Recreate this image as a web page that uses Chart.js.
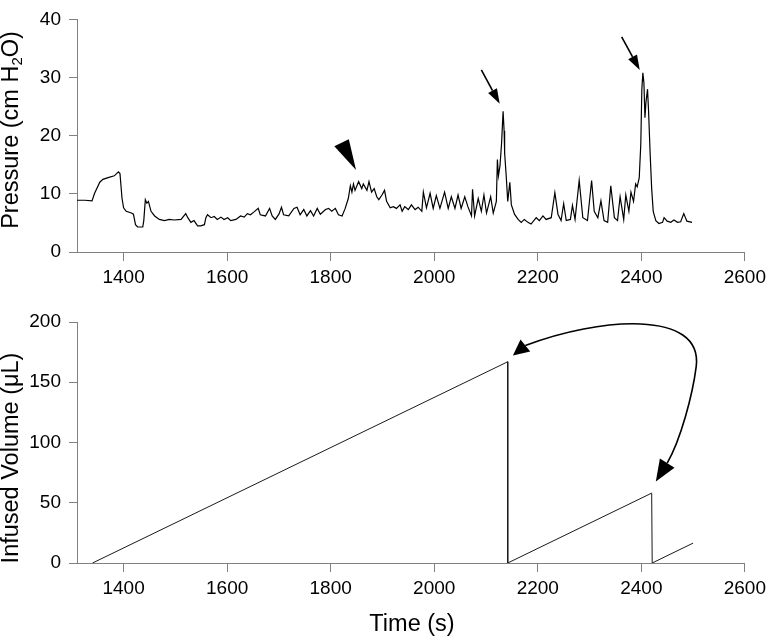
<!DOCTYPE html>
<html>
<head>
<meta charset="utf-8">
<script src="https://cdn.jsdelivr.net/npm/chart.js@4.4.1/dist/chart.umd.min.js"></script>
<style>
  html, body { margin: 0; padding: 0; background: #fff; }
  #wrap { position: relative; width: 771px; height: 639px; }
  canvas { position: absolute; left: 0; }
  #pressureChart { top: 0; }
  #volumeChart { top: 300px; }
</style>
</head>
<body>
<div id="wrap">
  <canvas id="pressureChart" width="771" height="300"></canvas>
  <canvas id="volumeChart" width="771" height="339"></canvas>
</div>
<script>
const timeTicks = [1400, 1600, 1800, 2000, 2200, 2400, 2600];
const pressureTicks = [0, 10, 20, 30, 40];
const volumeTicks = [0, 50, 100, 150, 200];

// pressure trace
const pressureTime = [
  1310, 1325, 1339, 1344, 1354, 1360, 1370, 1382, 1390, 1393, 1397, 1400, 1405, 1415, 1419, 1423, 1427, 1437, 1439, 1442,
  1445, 1448, 1453, 1460, 1469, 1479, 1488, 1498, 1511, 1520, 1524, 1530, 1536, 1543, 1549, 1556, 1559, 1562, 1569, 1575,
  1581, 1588, 1594, 1601, 1607, 1617, 1626, 1633, 1639, 1645, 1652, 1660, 1664, 1674, 1682, 1687, 1693, 1700, 1705, 1709,
  1719, 1729, 1735, 1741, 1748, 1754, 1761, 1767, 1774, 1780, 1790, 1796, 1802, 1809, 1815, 1822, 1828, 1834, 1838, 1841,
  1844, 1847, 1854, 1860, 1863, 1870, 1874, 1879, 1884, 1889, 1893, 1899, 1904, 1908, 1915, 1921, 1927, 1934, 1938, 1943,
  1950, 1956, 1963, 1969, 1976, 1979, 1985, 1992, 1998, 2004, 2011, 2020, 2027, 2033, 2040, 2046, 2052, 2059, 2065, 2072,
  2074, 2078, 2085, 2091, 2096, 2101, 2109, 2114, 2120, 2122, 2124, 2127, 2130, 2133, 2135, 2136, 2139, 2142, 2146, 2149,
  2152, 2155, 2162, 2168, 2174, 2181, 2187, 2197, 2203, 2210, 2216, 2226, 2233, 2239, 2245, 2250, 2255, 2263, 2267, 2272,
  2280, 2287, 2296, 2304, 2309, 2316, 2322, 2328, 2335, 2341, 2348, 2354, 2359, 2366, 2370, 2376, 2380, 2385, 2389, 2392,
  2396, 2399, 2401, 2403, 2405, 2407, 2409, 2412, 2414, 2417, 2420, 2423, 2428, 2434, 2441, 2444, 2450, 2457, 2463, 2470,
  2476, 2482, 2488, 2498
];
const pressureValue = [
  8.9, 8.9, 8.8, 10.1, 12.0, 12.5, 12.8, 13.1, 13.8, 13.5, 9.2, 7.6, 7.0, 6.7, 6.5, 4.7, 4.3, 4.3, 5.4, 9.0,
  8.4, 8.7, 7.0, 6.2, 5.6, 5.4, 5.6, 5.5, 5.6, 6.6, 5.9, 5.1, 5.4, 4.5, 4.5, 4.7, 5.9, 6.4, 5.9, 6.1,
  5.6, 6.0, 5.6, 5.9, 5.4, 5.6, 6.2, 6.0, 6.6, 6.4, 6.9, 7.5, 6.4, 6.2, 7.5, 6.2, 5.6, 6.5, 7.7, 6.4,
  6.2, 7.5, 7.7, 6.4, 7.3, 6.2, 7.1, 6.2, 7.5, 6.5, 7.3, 7.5, 7.0, 7.5, 6.4, 6.2, 7.5, 9.2, 11.4, 10.3,
  11.7, 10.6, 12.1, 10.9, 11.7, 10.6, 12.1, 10.3, 10.9, 9.5, 9.0, 9.8, 10.6, 8.7, 7.6, 7.8, 7.5, 8.1, 7.0, 7.8,
  7.3, 8.1, 7.3, 7.7, 7.0, 10.3, 7.6, 10.1, 7.5, 9.7, 7.5, 10.3, 7.5, 9.5, 7.5, 9.8, 7.5, 9.5, 7.8, 6.2,
  10.8, 6.2, 9.2, 7.0, 9.8, 6.7, 9.5, 6.7, 8.7, 15.9, 13.1, 14.8, 18.6, 24.2, 20.8, 17.0, 13.1, 8.7, 12.0, 8.1,
  7.3, 6.5, 5.6, 5.1, 5.6, 5.1, 4.8, 5.9, 5.4, 6.2, 5.6, 5.9, 10.2, 6.5, 5.4, 8.3, 5.4, 5.6, 8.0, 5.6,
  12.3, 5.9, 5.4, 12.3, 7.0, 5.9, 8.8, 5.4, 5.1, 11.4, 5.9, 5.4, 9.5, 5.6, 9.8, 7.0, 10.3, 8.7, 11.7, 11.2,
  12.8, 18.6, 28.0, 30.8, 29.1, 23.1, 25.8, 28.0, 24.2, 17.0, 10.9, 7.0, 5.4, 4.9, 5.1, 5.9, 5.3, 5.1, 5.5, 5.1,
  5.2, 6.6, 5.3, 5.1
];

// infused volume (sawtooth)
const volumeTime = [1340, 2142, 2142, 2420, 2421, 2500];
const volumeValue = [0, 167, 0, 58, 0, 16.5];

// annotation anchors, in data units
const wedgeMark = [[1807, 18.2], [1835, 19.4], [1849, 14.1]];
const peakArrows = [
  [[2091, 31.3], [2126.5, 25.5]],
  [[2362, 37.0], [2397, 31.3]]
];
const loopPath = [[2176, 180.5], [2316, 203.6], [2520, 211], [2506, 162.9], [2499, 139.3], [2476, 102.3], [2450, 82.9]];
const loopTips = [[2152, 172.3], [2428, 67.7]];

const FONT = "'Liberation Sans', Arial, sans-serif";
const AXIS = '#808080';
Chart.defaults.font.family = FONT;
Chart.defaults.color = '#000';

const arrowHead = (ctx, tip, base, half) => {
    const dx = tip[0] - base[0];
    const dy = tip[1] - base[1];
    const len = Math.hypot(dx, dy) || 1;
    const nx = -dy / len * half;
    const ny = dx / len * half;
    ctx.beginPath();
    ctx.moveTo(tip[0], tip[1]);
    ctx.lineTo(base[0] + nx, base[1] + ny);
    ctx.lineTo(base[0] - nx, base[1] - ny);
    ctx.closePath();
    ctx.fill();
};

const straightArrow = (ctx, from, to, headLen, half) => {
    const dx = to[0] - from[0];
    const dy = to[1] - from[1];
    const len = Math.hypot(dx, dy);
    const base = [to[0] - dx / len * headLen, to[1] - dy / len * headLen];
    ctx.lineWidth = 1.6;
    ctx.beginPath();
    ctx.moveTo(from[0], from[1]);
    ctx.lineTo(base[0], base[1]);
    ctx.stroke();
    arrowHead(ctx, to, base, half);
};

// rotated / plain titles with an optional subscript part
const axisTitles = {
    id: 'axisTitles',
    afterDraw(chart, args, opts) {
        const ctx = chart.ctx;
        ctx.save();
        ctx.fillStyle = '#000';
        ctx.textBaseline = 'middle';
        ctx.textAlign = 'left';
        (opts.items || []).forEach((item) => {
            const widths = item.parts.map((p) => {
                ctx.font = `${p.size}px ${FONT}`;
                return ctx.measureText(p.text).width;
            });
            const total = widths.reduce((s, w) => s + w, 0);
            ctx.save();
            ctx.translate(item.x, item.y);
            if (item.rotate) ctx.rotate(-Math.PI / 2);
            let cx = -total / 2;
            item.parts.forEach((p, i) => {
                ctx.font = `${p.size}px ${FONT}`;
                ctx.fillText(p.text, cx, p.dy || 0);
                cx += widths[i];
            });
            ctx.restore();
        });
        ctx.restore();
    }
};

const pressureMarks = {
    id: 'pressureMarks',
    afterDatasetsDraw(chart) {
        const { ctx, scales: { x, y } } = chart;
        const px = (p) => [x.getPixelForValue(p[0]), y.getPixelForValue(p[1])];
        ctx.save();
        ctx.fillStyle = '#000';
        ctx.strokeStyle = '#000';
        ctx.beginPath();
        wedgeMark.forEach((p, i) => {
            const [a, b] = px(p);
            if (i) ctx.lineTo(a, b); else ctx.moveTo(a, b);
        });
        ctx.closePath();
        ctx.fill();
        peakArrows.forEach(([from, to]) => straightArrow(ctx, px(from), px(to), 15, 5));
        ctx.restore();
    }
};

const volumeMarks = {
    id: 'volumeMarks',
    afterDatasetsDraw(chart) {
        const { ctx, scales: { x, y } } = chart;
        const px = (p) => [x.getPixelForValue(p[0]), y.getPixelForValue(p[1])];
        const pts = loopPath.map(px);
        ctx.save();
        ctx.fillStyle = '#000';
        ctx.strokeStyle = '#000';
        ctx.lineWidth = 1.6;
        ctx.beginPath();
        ctx.moveTo(pts[0][0], pts[0][1]);
        for (let i = 1; i + 2 < pts.length; i += 3) {
            ctx.bezierCurveTo(pts[i][0], pts[i][1], pts[i + 1][0], pts[i + 1][1], pts[i + 2][0], pts[i + 2][1]);
        }
        ctx.stroke();
        arrowHead(ctx, px(loopTips[0]), pts[0], 7.8);
        arrowHead(ctx, px(loopTips[1]), pts[pts.length - 1], 8.6);
        ctx.restore();
    }
};

const tickFont = { size: 19 };
const plainLabel = (value) => String(value);

const timeAxis = (height) => ({
    type: 'linear',
    min: 1310,
    max: 2600,
    afterBuildTicks: (scale) => { scale.ticks = timeTicks.map((v) => ({ value: v })); },
    afterFit: (scale) => { scale.height = height; },
    grid: { drawOnChartArea: false, drawTicks: true, tickLength: 9, color: AXIS },
    border: { display: true, color: AXIS, width: 1 },
    ticks: { font: tickFont, color: '#000', padding: 5, maxRotation: 0, autoSkip: false, callback: plainLabel }
});

const valueAxis = (max, ticks) => ({
    type: 'linear',
    min: 0,
    max: max,
    afterBuildTicks: (scale) => { scale.ticks = ticks.map((v) => ({ value: v })); },
    afterFit: (scale) => { scale.width = 77; },
    grid: { drawOnChartArea: false, drawTicks: true, tickLength: 8, color: AXIS },
    border: { display: true, color: AXIS, width: 1 },
    ticks: { font: tickFont, color: '#000', padding: 8, callback: plainLabel }
});

new Chart(document.getElementById('pressureChart'), {
    type: 'line',
    data: {
        datasets: [{
            data: pressureTime.map((t, i) => ({ x: t, y: pressureValue[i] })),
            borderColor: '#000',
            borderWidth: 1.2,
            pointRadius: 0,
            tension: 0,
            fill: false
        }]
    },
    options: {
        responsive: false,
        animation: false,
        devicePixelRatio: 1,
        layout: { padding: { top: 11, right: 23, left: 0, bottom: 0 } },
        plugins: {
            legend: { display: false },
            tooltip: { enabled: false },
            axisTitles: {
                items: [{
                    x: 12, y: 130, rotate: true,
                    parts: [
                        { text: 'Pressure (cm H', size: 23.5 },
                        { text: '2', size: 15, dy: 6 },
                        { text: 'O)', size: 23.5 }
                    ]
                }]
            }
        },
        scales: {
            x: timeAxis(48),
            y: valueAxis(40, pressureTicks)
        }
    },
    plugins: [axisTitles, pressureMarks]
});

new Chart(document.getElementById('volumeChart'), {
    type: 'line',
    data: {
        datasets: [{
            data: volumeTime.map((t, i) => ({ x: t, y: volumeValue[i] })),
            borderColor: '#1a1a1a',
            borderWidth: 1,
            pointRadius: 0,
            tension: 0,
            fill: false
        }]
    },
    options: {
        responsive: false,
        animation: false,
        devicePixelRatio: 1,
        layout: { padding: { top: 22, right: 23, left: 0, bottom: 0 } },
        plugins: {
            legend: { display: false },
            tooltip: { enabled: false },
            axisTitles: {
                items: [
                    { x: 12, y: 158, rotate: true, parts: [{ text: 'Infused Volume (\u03bcL)', size: 23.5 }] },
                    { x: 412, y: 325, rotate: false, parts: [{ text: 'Time (s)', size: 23.5 }] }
                ]
            }
        },
        scales: {
            x: timeAxis(76),
            y: valueAxis(200, volumeTicks)
        }
    },
    plugins: [axisTitles, volumeMarks]
});
</script>
</body>
</html>
